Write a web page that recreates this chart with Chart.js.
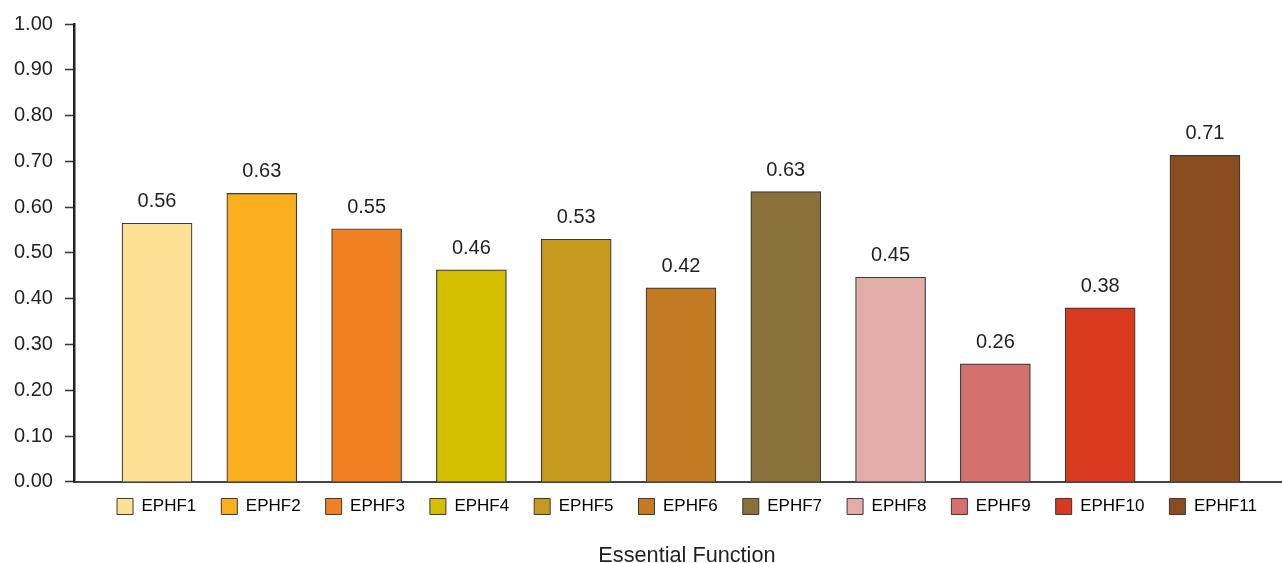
<!DOCTYPE html>
<html>
<head>
<meta charset="utf-8">
<script src="https://cdn.jsdelivr.net/npm/chart.js@4"></script>
<style>
  html, body { margin: 0; padding: 0; background: #fff; overflow: hidden; }
  #wrap { width: 1300px; height: 569px; }
</style>
</head>
<body>
<div id="wrap"><canvas id="myChart"></canvas></div>
<script>
// data
const functions = ["EPHF1", "EPHF2", "EPHF3", "EPHF4", "EPHF5", "EPHF6", "EPHF7", "EPHF8", "EPHF9", "EPHF10", "EPHF11"];
const scores = [0.565, 0.630, 0.553, 0.463, 0.530, 0.424, 0.634, 0.447, 0.258, 0.380, 0.713];
const yTicks = [0, 0.1, 0.2, 0.3, 0.4, 0.5, 0.6, 0.7, 0.8, 0.9, 1.0];
const colors = ["#FDE194", "#F9AF1E", "#F28124", "#D4BF00", "#C69A1E", "#C47A22", "#8A703A", "#E2ADA7", "#D3716E", "#D9391F", "#8A4C1E"];

const FONT = "'Liberation Sans', Arial, sans-serif";
const TEXT = "#231f20";

// value labels above each bar
const valueLabels = {
  id: "valueLabels",
  afterDatasetsDraw(chart) {
    const ctx = chart.ctx;
    const meta = chart.getDatasetMeta(0);
    ctx.save();
    ctx.font = "20px " + FONT;
    ctx.fillStyle = TEXT;
    ctx.textAlign = "center";
    ctx.textBaseline = "alphabetic";
    meta.data.forEach((bar, i) => {
      ctx.fillText(scores[i].toFixed(2), bar.x, bar.y - 16);
    });
    ctx.restore();
  },
};

// pull the legend a bit closer to the axis (keeps the wide item spacing)
const legendNudge = {
  id: "legendNudge",
  afterLayout(chart) {
    if (chart.legend) {
      chart.legend.top -= 9;
      chart.legend.bottom -= 9;
    }
  },
};

const ctx = document.getElementById("myChart").getContext("2d");
const myChart = new Chart(ctx, {
  type: "bar",
  data: {
    labels: functions,
    datasets: [
      {
        label: "Score",
        data: scores.map((v, i) => ({ x: i, y: v })),
        backgroundColor: colors,
        borderColor: "#3a3a3a",
        borderWidth: 1.2,
        borderSkipped: "bottom",
        barThickness: 70,
      },
    ],
  },
  options: {
    responsive: true,
    maintainAspectRatio: false,
    animation: false,
    layout: { padding: { left: 2, top: 12, right: 0, bottom: 0 } },
    scales: {
      x: {
        type: "linear",
        offset: false,
        min: -0.793,
        max: 10.907,
        ticks: { display: false },
        grid: { display: false, drawTicks: false },
        border: { color: "#444", width: 2 },
      },
      y: {
        min: 0,
        max: 1,
        afterBuildTicks: (axis) => {
          axis.ticks = yTicks.map((v) => ({ value: v }));
        },
        ticks: {
          font: { size: 20, family: FONT },
          color: TEXT,
          padding: 12,
          callback: (v) => Number(v).toFixed(2),
        },
        grid: {
          drawOnChartArea: false,
          drawTicks: true,
          tickLength: 9,
          tickColor: "#333",
          tickWidth: 1.5,
        },
        border: { color: "#222", width: 2.5 },
      },
    },
    plugins: {
      legend: {
        display: true,
        position: "bottom",
        fullSize: false,
        labels: {
          boxWidth: 16,
          boxHeight: 16,
          padding: 25,
          color: TEXT,
          font: { size: 17, family: FONT },
          generateLabels: (chart) =>
            functions.map((name, i) => ({
              text: name,
              fillStyle: colors[i],
              strokeStyle: "#3a3a3a",
              lineWidth: 1,
              hidden: false,
              index: i,
            })),
        },
        onClick: () => {},
      },
      title: {
        display: true,
        position: "bottom",
        fullSize: false,
        text: "Essential Function",
        color: TEXT,
        font: { size: 21.7, family: FONT, weight: "normal" },
        padding: { top: 9, bottom: 0 },
      },
      tooltip: { enabled: false },
    },
  },
  plugins: [valueLabels, legendNudge],
});
</script>
</body>
</html>
